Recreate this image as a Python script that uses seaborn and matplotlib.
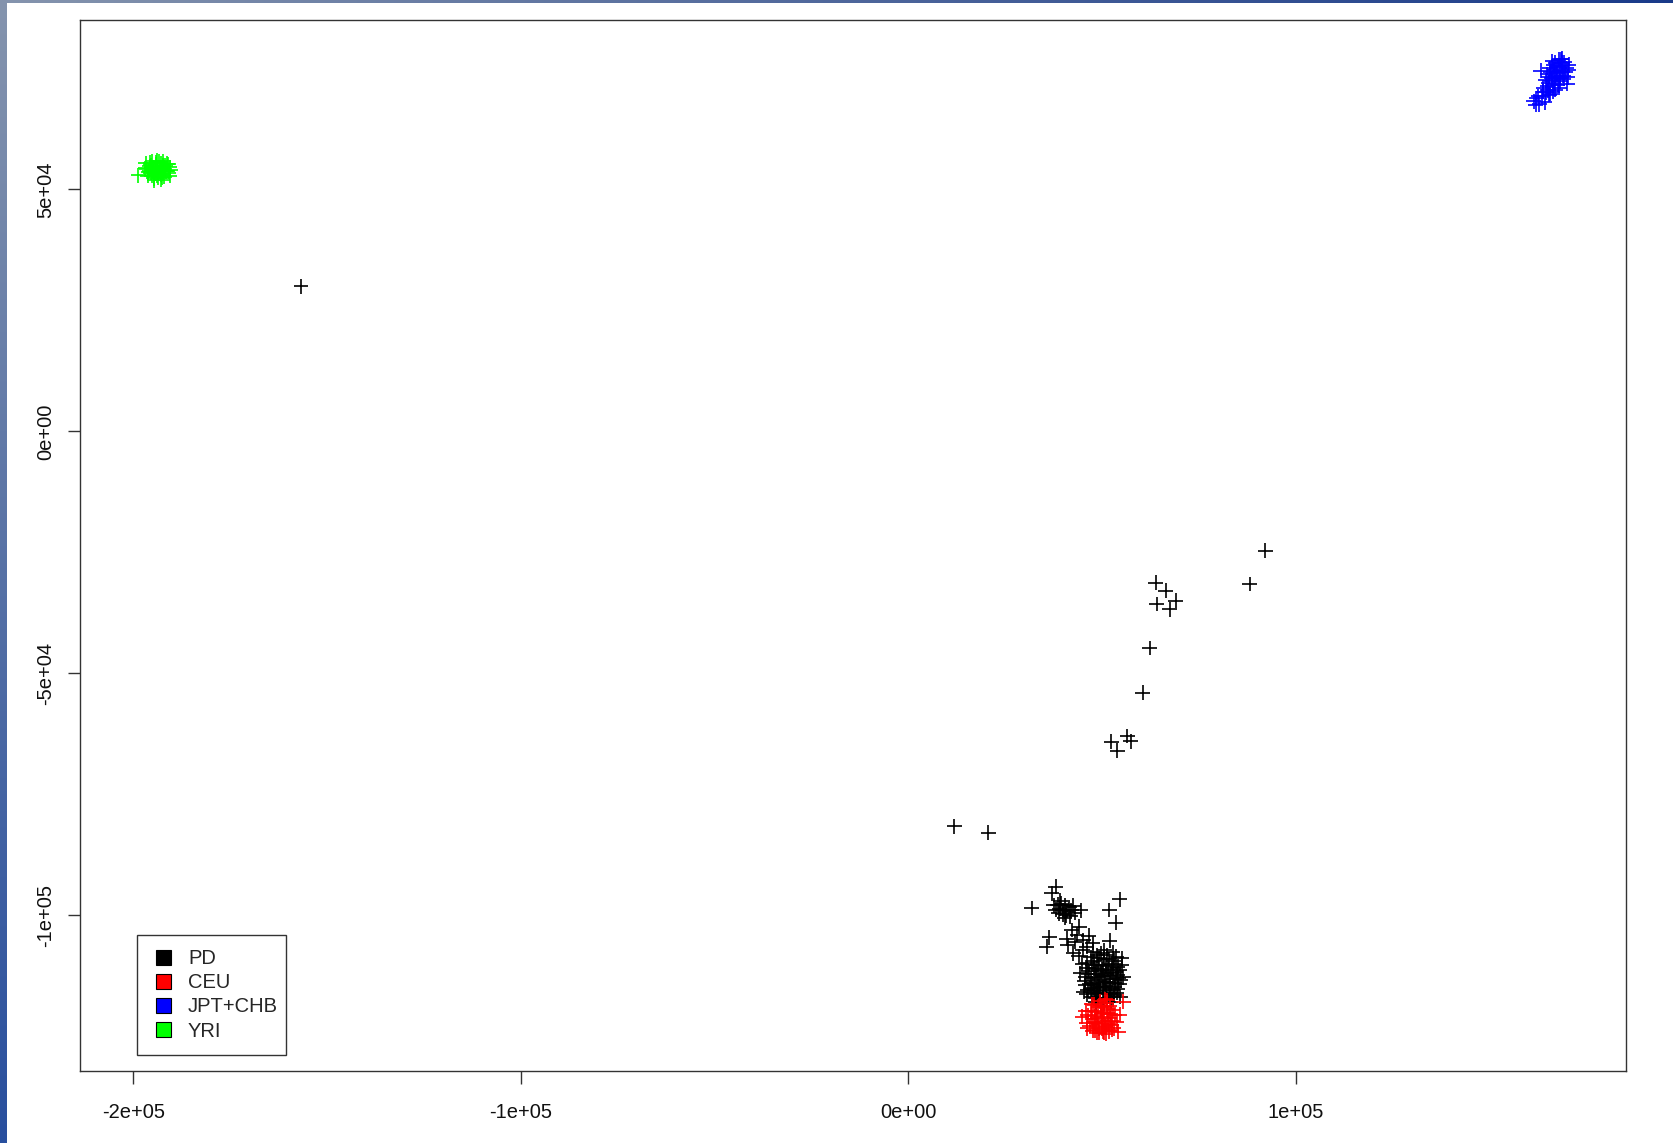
import numpy as np
import pandas as pd
import matplotlib
matplotlib.use("Agg")
import matplotlib.pyplot as plt
from matplotlib.patches import Patch, Rectangle
from matplotlib.legend_handler import HandlerPatch
import seaborn as sns

# ---------------- data ----------------
groups = ["PD", "CEU", "JPT+CHB", "YRI"]
colors = ["#000000", "#ff0000", "#0000ff", "#00ff00"]

pd_x = [-156770, 11850, 20670, 92080, 88130, 63870, 66370, 64050, 68950, 67480,
        62320, 60440, 52330, 53880, 56460, 57330,
        31870, 38060, 37030, 54580, 51820, 53550,
        38500, 39500, 40500, 41500, 38000, 39000, 40000, 41000, 42000, 38800,
        39800, 40800, 42500, 37500, 39200, 40300, 41800, 43000, 44500,
        36340, 35660, 40830, 44080, 42110, 45110, 42530, 45990, 41160, 42970,
        45030, 47610, 52000, 43500, 46500, 44000,
        50000, 48500, 51500, 47200, 52800, 49000, 51000, 48000, 50500, 52500,
        46500, 53500, 46800, 53200, 49500, 47800, 51800, 50200, 49200, 50800,
        48200, 51900, 47500, 53000, 45800, 54200, 49800, 48800, 51200, 46200,
        54000, 52200, 47100, 50600, 48600, 53800, 46000, 49600, 50900, 48900,
        52000, 47900, 45600, 54400, 50300, 51300, 49000, 52700, 48200, 55020,
        47000, 49300, 51700, 53600, 45900, 47900, 49900, 51100, 52900, 54500,
        46400, 48700, 50600, 52400, 53900, 45500, 47300, 49400, 51400, 53300,
        54800, 46300, 48300, 50100, 52100, 54100, 47300, 49300, 51100, 53100,
        48400, 50500, 52200, 44800, 55000, 45200, 54700, 47700, 50600, 52800,
        44300, 55400]
pd_y = [30000, -81610, -82930, -24670, -31550, -31280, -32930, -35680, -35000, -36780,
        -44770, -54000, -64130, -65990, -62950, -64050,
        -98490, -94090, -95450, -96690, -98900, -101520,
        -97800, -97600, -97900, -98300, -98800, -98600, -98900, -99100, -99000, -99600,
        -99800, -100000, -98000, -97900, -97000, -100500, -100200, -99500, -99000,
        -104540, -106480, -104830, -102350, -103030, -105100, -107850, -106480, -106130, -105450,
        -107160, -105720, -105240, -104000, -104200, -108500,
        -112500, -111000, -111200, -113000, -113200, -114800, -114600, -109500, -109000, -110000,
        -111500, -111800, -114200, -114800, -116300, -116000, -116200, -110500, -113400, -113800,
        -112200, -112600, -110200, -109400, -112800, -112900, -107800, -108300, -108200, -109800,
        -110600, -115400, -115300, -115500, -115600, -116000, -116300, -111600, -112000, -110200,
        -114000, -114300, -114500, -114200, -117000, -117200, -117300, -116900, -117000, -108880,
        -108700, -108900, -109100, -108600, -110800, -110900, -111200, -110300, -110900, -111400,
        -112100, -112800, -112400, -111900, -112300, -113600, -114000, -114100, -113700, -113900,
        -113400, -115400, -115100, -114900, -115100, -115200, -116800, -116000, -116100, -116500,
        -118000, -118200, -117900, -110000, -110300, -115800, -116800, -107500, -107200, -107600,
        -112000, -112800]

ceu_x = [50000, 48500, 51500, 47500, 52500, 49000, 51000, 50000, 48000, 52000,
         49500, 50800, 47000, 53200, 46800, 53000, 48200, 50500, 49300, 51800,
         49800, 50600, 48800, 51300, 47800, 52300, 51300, 55430, 54140, 45990,
         44800, 51000, 50000,
         47300, 49000, 50600, 52800, 46300, 48200, 50300, 51900, 53800, 46200,
         47600, 49100, 50800, 52500, 48600, 50200, 45800, 54600, 49900, 51600,
         48300, 51200, 49700, 52200]
ceu_y = [-121000, -120000, -120200, -121500, -121800, -122500, -122800, -119000, -118500, -118800,
         -117800, -117300, -119800, -120500, -122800, -123300, -123800, -124200, -124300, -124000,
         -120300, -121900, -121200, -119400, -122300, -122600, -117500, -117840, -124040, -122310,
         -121000, -124500, -123400,
         -118400, -118900, -118700, -119600, -120700, -120800, -120100, -121300, -122000, -123300,
         -123900, -123300, -123000, -123700, -124300, -124000, -119700, -120500, -122200, -122400,
         -122000, -118100, -119700, -120300]

asn_x = [167500, 166000, 169000, 165500, 168500, 167000, 169800, 166500, 168200, 164800,
         170200, 167800, 166200, 169300, 165200, 167200, 168800, 166700, 164500, 163800,
         165000, 166300, 162000, 163500, 161400, 164300, 162800, 165700, 170000, 168000,
         167000, 168600, 170500, 163200,
         165800, 167300, 168700, 169500, 166900, 168100, 165300, 166400, 167900, 169100,
         164900, 166000, 167600, 163900, 165400, 168500, 170300, 162600, 164600, 161900]
asn_y = [74000, 73000, 73500, 75000, 75500, 76200, 75000, 71800, 72300, 73800,
         73200, 76800, 76500, 76300, 72000, 72800, 74300, 74700, 72500, 71000,
         70500, 70200, 68800, 69200, 68200, 68000, 67600, 69800, 71800, 71000,
         70600, 77000, 75800, 74500,
         74300, 75200, 76200, 74200, 73500, 73100, 73300, 75700, 74500, 72800,
         71300, 72400, 71600, 70200, 69500, 76900, 74700, 69300, 70100, 67500]

yri_x = [-193800, -195000, -192500, -194500, -193000, -196000, -191500, -194200, -192800, -195500,
         -191800, -196300, -193600, -192000, -194800, -190900, -197000, -193300, -195200, -192300,
         -191000, -194000, -193400, -195600, -192600, -198800, -190500, -190600, -196800, -194600,
         -192900,
         -195800, -194400, -193100, -191900, -196200, -194900, -193700, -192300, -191200, -195300,
         -194000, -192700, -195700, -194100, -192500, -191300, -193800, -196600, -190700]
yri_y = [54000, 54500, 54300, 53200, 53000, 53800, 53700, 55200, 55400, 55000,
         54900, 52800, 52500, 52600, 52300, 53300, 54400, 55700, 55800, 55800,
         55200, 54600, 53600, 53400, 53800, 52950, 54100, 52800, 55400, 51900,
         52000,
         54800, 54000, 54500, 54200, 53500, 53700, 53300, 53200, 53900, 52800,
         52900, 52400, 55500, 55600, 54900, 55300, 55900, 54200, 54600]

x_ticks = [-200000, -100000, 0, 100000]
x_tick_labels = ["-2e+05", "-1e+05", "0e+00", "1e+05"]
y_ticks = [-100000, -50000, 0, 50000]
y_tick_labels = ["-1e+05", "-5e+04", "0e+00", "5e+04"]

df = pd.DataFrame({
    "x": pd_x + ceu_x + asn_x + yri_x,
    "y": pd_y + ceu_y + asn_y + yri_y,
    "group": (["PD"] * len(pd_x) + ["CEU"] * len(ceu_x)
              + ["JPT+CHB"] * len(asn_x) + ["YRI"] * len(yri_x)),
})

# ---------------- figure ----------------
sns.set_theme(style="white")
plt.rcParams["font.family"] = ["Liberation Sans", "DejaVu Sans"]

W, H = 1674, 1143
fig = plt.figure(figsize=(W / 100, H / 100), dpi=100, facecolor="white")

# screenshot border (gradient strips on left and top)
bg = fig.add_axes([0, 0, 1, 1], zorder=-5)
bg.set_xlim(0, W)
bg.set_ylim(H, 0)
bg.axis("off")
c_tl = np.array([0.52, 0.58, 0.68])
c_bl = np.array([0.16, 0.31, 0.62])
c_tr = np.array([0.10, 0.23, 0.54])
tv = np.linspace(0, 1, 200)[:, None, None]
left_strip = c_tl * (1 - tv) + c_bl * tv
bg.imshow(left_strip, extent=[0, 7, H, 0], aspect="auto", interpolation="bilinear")
th = np.linspace(0, 1, 200)[None, :, None]
top_strip = c_tl * (1 - th) + c_tr * th
bg.imshow(top_strip, extent=[0, W, 3, 0], aspect="auto", interpolation="bilinear")

left, right, top, bottom = 80, 1626, 20, 1071
ax = fig.add_axes([left / W, (H - bottom) / H, (right - left) / W, (bottom - top) / H], zorder=1)
ax.set_facecolor("white")

sns.scatterplot(data=df, x="x", y="y", hue="group", hue_order=groups,
                palette=colors, marker="+", s=115, linewidth=1.2,
                legend=False, ax=ax)

ax.set_xlim(-213800, 185200)
ax.set_ylim(-132170, 85000)
ax.set_xlabel("")
ax.set_ylabel("")

ax.set_xticks(x_ticks)
ax.set_xticklabels(x_tick_labels, fontsize=14.5, color="#111111")
ax.set_yticks(y_ticks)
ax.set_yticklabels(y_tick_labels, fontsize=14.5, color="#111111", rotation=90, va="center")
ax.tick_params(axis="x", direction="out", length=9, width=1, color="#333333", pad=14, bottom=True)
ax.tick_params(axis="y", direction="out", length=9, width=1, color="#333333", pad=9, left=True)

for sp in ax.spines.values():
    sp.set_visible(True)
    sp.set_color("#333333")
    sp.set_linewidth(1.0)

FS = 14.5
SQ = 0.75 * FS  # square side in points


def square_patch(legend, orig_handle, xdescent, ydescent, width, height, fontsize):
    return Rectangle((-xdescent + width - SQ, -ydescent + (height - SQ) / 2), SQ, SQ)


handles = [Patch(facecolor=c, edgecolor="black", linewidth=0.8, label=g)
           for g, c in zip(groups, colors)]
leg = ax.legend(handles=handles, loc="lower left",
                bbox_to_anchor=(0.0369, 0.0152), borderaxespad=0,
                fontsize=FS, frameon=False,
                handlelength=0.97, handleheight=0.75,
                handletextpad=0.84, labelspacing=0.25, borderpad=0.72,
                handler_map={Patch: HandlerPatch(patch_func=square_patch)})

# legend box drawn from the legend's own extent, with a slightly tighter right side
fig.canvas.draw()
bb = leg.get_window_extent()
inv = fig.transFigure.inverted()
(x0, y0), (x1, y1) = inv.transform([(bb.x0, bb.y0), (bb.x1 - 6, bb.y1)])
frame = Rectangle((x0, y0), x1 - x0, y1 - y0, transform=fig.transFigure,
                  facecolor="white", edgecolor="#333333", linewidth=1.0,
                  zorder=4, clip_on=False)
ax.add_artist(frame)

fig.savefig("out.png", dpi=100, facecolor="white")
